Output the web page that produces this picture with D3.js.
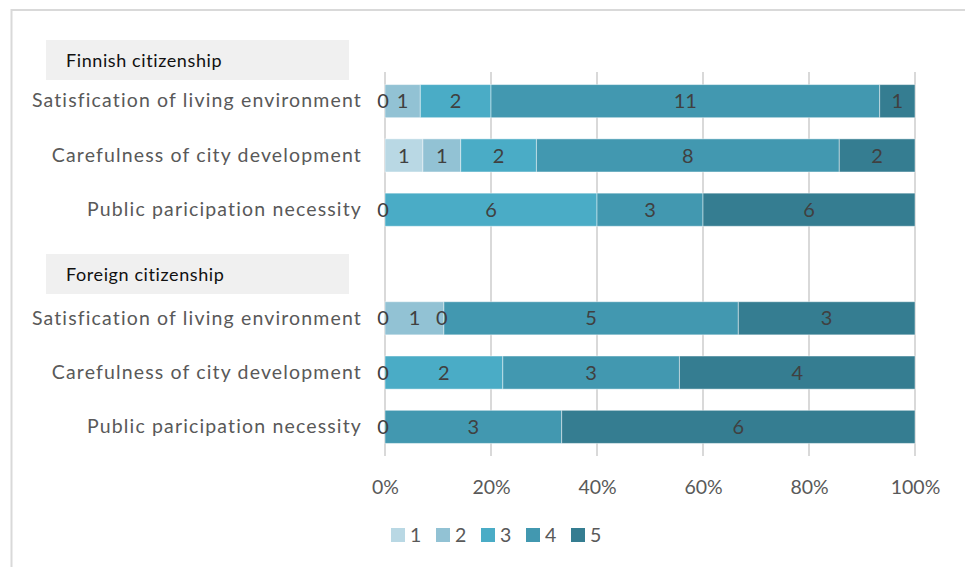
<!DOCTYPE html>
<html>
<head>
<meta charset="utf-8">
<script src="https://cdn.jsdelivr.net/npm/d3@7/dist/d3.min.js"></script>
<style>
  html, body { margin: 0; padding: 0; background: #fff; }
  svg { display: block; }
</style>
</head>
<body>
<svg id="chart" width="965" height="567"></svg>
<script>
// ---- data ----
const groups = ["Finnish citizenship", "Foreign citizenship"];
const categories = [
  "Satisfication of living environment",
  "Carefulness of city development",
  "Public paricipation necessity",
  "",
  "Satisfication of living environment ",
  "Carefulness of city development ",
  "Public paricipation necessity "
];
const seriesNames = ["1", "2", "3", "4", "5"];
const s1 = [0, 1, null, null, 0, null, null];
const s2 = [1, 1, 0, null, 1, 0, 0];
const s3 = [2, 2, 6, null, 0, 2, null];
const s4 = [11, 8, 3, null, 5, 3, 3];
const s5 = [1, 2, 6, null, 3, 4, 6];
const xTicks = [0, 0.2, 0.4, 0.6, 0.8, 1];
const colors = ["#b9d8e4", "#92c2d4", "#4aacc6", "#4298b0", "#357d91"];

const seriesVals = [s1, s2, s3, s4, s5];
const svg = d3.select("#chart");
const font = "Lato, 'Open Sans', sans-serif";

// frame
svg.append("rect").attr("x", 11.5).attr("y", 10).attr("width", 965).attr("height", 570)
  .attr("fill", "none").attr("stroke", "#d9d9d9").attr("stroke-width", 2);

const x = d3.scaleLinear().domain([0, 1]).range([385, 915]);
const y = d3.scaleBand().domain(categories).range([74, 454]).paddingInner(0.39).paddingOuter(0.195);

// gridlines
svg.append("g").selectAll("line").data(xTicks).join("line")
  .attr("x1", d => x(d)).attr("x2", d => x(d))
  .attr("y1", 72).attr("y2", 456)
  .attr("stroke", "#d9d9d9").attr("stroke-width", 2);

// stacked rows
const rows = categories.map((c, i) => {
  const vals = seriesVals.map(s => s[i]);
  const total = d3.sum(vals, v => v || 0);
  let acc = 0;
  return vals.map((v, k) => {
    const x0 = total ? acc / total : 0;
    acc += v || 0;
    const x1 = total ? acc / total : 0;
    return { cat: c, k, v, x0, x1 };
  });
}).filter(r => r[0].cat !== "");

const segs = rows.flat();
svg.append("g").selectAll("rect").data(segs.filter(d => d.v)).join("rect")
  .attr("x", d => x(d.x0)).attr("width", d => x(d.x1) - x(d.x0))
  .attr("y", d => y(d.cat)).attr("height", y.bandwidth())
  .attr("fill", d => colors[d.k])
  .attr("stroke", "#ffffff").attr("stroke-opacity", 0.45).attr("stroke-width", 1);

svg.append("g").selectAll("text").data(segs.filter(d => d.v !== null)).join("text")
  .attr("x", d => (x(d.x0) + x(d.x1)) / 2 - (d.v === 0 ? 2 : 0))
  .attr("y", d => y(d.cat) + y.bandwidth() / 2)
  .attr("dy", "0.36em")
  .attr("text-anchor", "middle")
  .attr("font-family", font).attr("font-size", 20).attr("fill", "#404040")
  .text(d => d.v);

// category labels
const yAxis = svg.append("g").attr("transform", "translate(362,0)")
  .call(d3.axisLeft(y).tickSize(0).tickPadding(0).tickFormat(d => d.trim()));
yAxis.select(".domain").remove();
yAxis.selectAll("text").attr("font-family", font).attr("font-size", 19.5)
  .attr("letter-spacing", "1.15px").attr("fill", "#595959");

// group headers
const headerY = [40, 254];
groups.forEach((g, i) => {
  svg.append("rect").attr("x", 46).attr("y", headerY[i]).attr("width", 303).attr("height", 40).attr("fill", "#f0f0f0");
  svg.append("text").attr("x", 66).attr("y", headerY[i] + 21).attr("dy", "0.35em")
    .attr("font-family", font).attr("font-size", 18).attr("letter-spacing", "0.6px").attr("fill", "#111")
    .text(g);
});

// x axis labels
const xAxis = svg.append("g").attr("transform", "translate(0,480)")
  .call(d3.axisBottom(x).tickValues(xTicks).tickSize(0).tickPadding(0).tickFormat(d3.format(".0%")));
xAxis.select(".domain").remove();
xAxis.selectAll("text").attr("font-family", font).attr("font-size", 19.5).attr("fill", "#595959");

// legend
const leg = svg.append("g").selectAll("g").data(seriesNames).join("g")
  .attr("transform", (d, i) => `translate(${391 + i * 45},528)`);
leg.append("rect").attr("width", 14).attr("height", 14).attr("fill", (d, i) => colors[i]);
leg.append("text").attr("x", 19).attr("y", 7).attr("dy", "0.36em")
  .attr("font-family", font).attr("font-size", 19.5).attr("fill", "#595959").text(d => d);
</script>
</body>
</html>
